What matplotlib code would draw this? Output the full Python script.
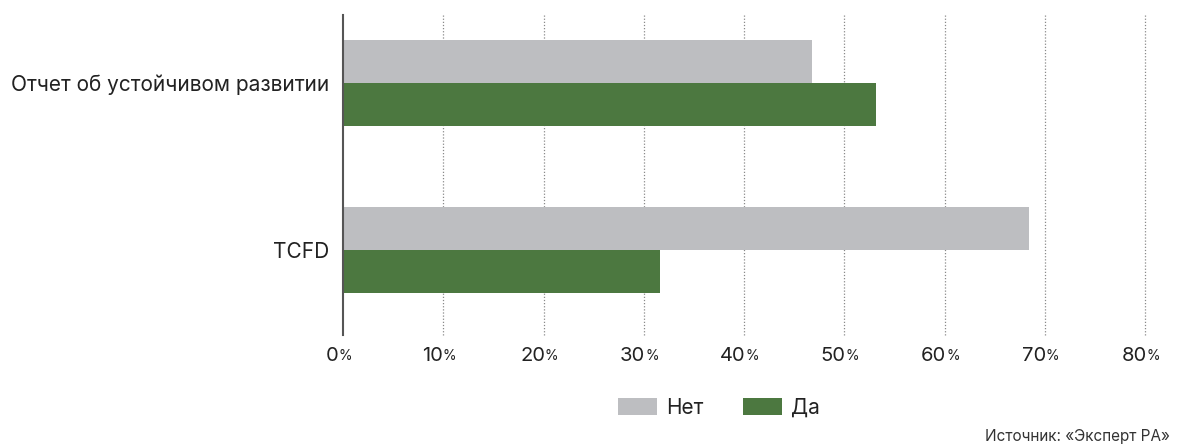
import numpy as np
import matplotlib.pyplot as plt
from matplotlib.patches import Patch
from matplotlib.transforms import ScaledTranslation

categories = ["Отчет об устойчивом развитии", "TCFD"]
net_values = [46.8, 68.4]
da_values = [53.2, 31.6]
x_ticks = [0, 10, 20, 30, 40, 50, 60, 70, 80]

GRAY = "#BDBEC1"
GREEN = "#4C7840"
TEXT = "#222222"

plt.rcParams['font.family'] = ['Inter', 'DejaVu Sans']


def main():
    fig = plt.figure(figsize=(11.83, 4.47), dpi=100)
    W, H = 1183, 447
    ax = fig.add_axes([343 / W, 1 - 335 / H, (1145 - 343) / W, (335 - 15) / H])

    y = np.arange(len(categories))
    h = 0.26
    ax.barh(y - h / 2, net_values, height=h, color=GRAY, label="Нет")
    ax.barh(y + h / 2, da_values, height=h, color=GREEN, label="Да")

    ax.set_xlim(0, 80)
    ax.set_ylim(1.509, -0.407)

    for t in x_ticks[1:]:
        ax.axvline(t, color="#8a8a8a", lw=0.9, ls=(0, (1, 1.5)), zorder=0, clip_on=False)

    for s in ["top", "right", "bottom"]:
        ax.spines[s].set_visible(False)
    ax.spines["left"].set_color("#555555")
    ax.spines["left"].set_linewidth(1.5)

    ax.set_yticks(y)
    ax.set_yticklabels(categories, fontsize=15, color=TEXT)
    ax.tick_params(axis="y", length=0, pad=10)
    ax.set_xticks([])

    # tick labels with a smaller percent sign
    for t in x_ticks:
        off = ScaledTranslation(-11 / 100, 0, fig.dpi_scale_trans)
        txt = ax.text(t, -0.065, str(t), transform=ax.get_xaxis_transform() + off,
                      ha="center", va="center", fontsize=14.5, color=TEXT)
        ax.annotate("%", xy=(1, 0.12), xycoords=txt, ha="left", va="bottom",
                    fontsize=10, color=TEXT)

    handles = [Patch(facecolor=GRAY), Patch(facecolor=GREEN)]
    fig.legend(handles, ["Нет", "Да"], loc="center", bbox_to_anchor=(719 / W, 1 - 408 / H),
               ncol=2, frameon=False, fontsize=15, handlelength=1.85, handleheight=0.85,
               handletextpad=0.45, columnspacing=1.9, labelcolor=TEXT)

    fig.text(1170 / W, 1 - 437 / H, "Источник: «Эксперт РА»", ha="right", va="center",
             fontsize=11, color="#333333")

    fig.savefig("out.png", dpi=100)


if __name__ == "__main__":
    main()
